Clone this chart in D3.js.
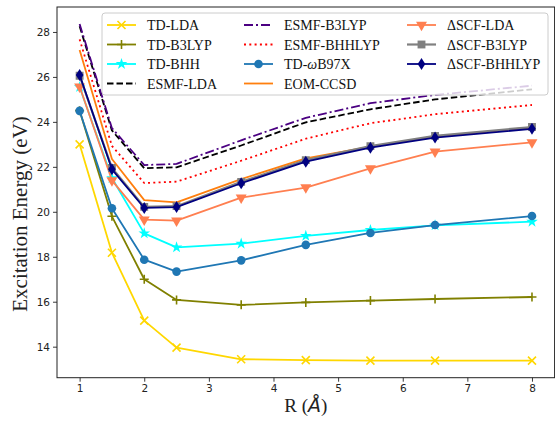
<!DOCTYPE html>
<html><head><meta charset="utf-8">
<script src="https://cdn.jsdelivr.net/npm/d3@7"></script>
<style>body{margin:0;background:#fff}</style>
</head><body><svg id="c" width="555" height="423"></svg>
<script>
// ---- data ----
const xValues = [1, 1.5, 2, 2.5, 3.5, 4.5, 5.5, 6.5, 8];
const tdLDA     = [23.0, 18.18, 15.16, 13.96, 13.44, 13.40, 13.38, 13.38, 13.38];
const tdB3LYP   = [24.5, 19.8, 17.0, 16.08, 15.86, 15.97, 16.05, 16.12, 16.21];
const tdBHH     = [25.55, 21.5, 19.04, 18.42, 18.58, 18.93, 19.19, 19.40, 19.56];
const esmfLDA   = [28.25, 23.62, 21.94, 21.98, 22.95, 23.98, 24.56, 25.0, 25.45];
const esmfB3LYP = [28.35, 23.72, 22.08, 22.13, 23.18, 24.18, 24.83, 25.2, 25.61];
const esmfBHHLYP= [27.67, 22.93, 21.28, 21.34, 22.27, 23.25, 23.94, 24.34, 24.75];
const tdWB97X   = [24.49, 20.16, 17.87, 17.34, 17.84, 18.53, 19.06, 19.41, 19.81];
const eomCCSD   = [27.2, 22.35, 20.52, 20.42, 21.45, 22.38, 22.9, 23.35, 23.75];
const dscfLDA   = [25.57, 21.4, 19.65, 19.61, 20.63, 21.08, 21.93, 22.68, 23.09];
const dscfB3LYP = [26.05, 21.95, 20.22, 20.25, 21.33, 22.3, 22.92, 23.38, 23.77];
const dscfBHHLYP= [26.09, 21.89, 20.17, 20.21, 21.27, 22.23, 22.85, 23.3, 23.69];
const seriesNames = ["TD-LDA","TD-B3LYP","TD-BHH","ESMF-LDA","ESMF-B3LYP","ESMF-BHHLYP","TD-ωB97X","EOM-CCSD","ΔSCF-LDA","ΔSCF-B3LYP","ΔSCF-BHHLYP"];
const seriesValues = [tdLDA, tdB3LYP, tdBHH, esmfLDA, esmfB3LYP, esmfBHHLYP, tdWB97X, eomCCSD, dscfLDA, dscfB3LYP, dscfBHHLYP];
const xTicks = [1,2,3,4,5,6,7,8];
const yTicks = [14,16,18,20,22,24,26,28];
const xLabel = "R (";
const yLabel = "Excitation Energy (eV)";

// ---- styles ----
const styles = [
  {color:"#FFD700", dash:null, marker:"x"},
  {color:"#808000", dash:null, marker:"+"},
  {color:"#00FFFF", dash:null, marker:"star"},
  {color:"#000000", dash:"6.5,3", marker:null},
  {color:"#4B0082", dash:"9,3,2,3", marker:null},
  {color:"#FF0000", dash:"2,3.3", marker:null},
  {color:"#1f77b4", dash:null, marker:"circle"},
  {color:"#ff7f0e", dash:null, marker:null},
  {color:"#FF7F50", dash:null, marker:"tri"},
  {color:"#808080", dash:null, marker:"square"},
  {color:"#000080", dash:null, marker:"diamond"}
];

const svg = d3.select("#c");
const L=57, R=554.6, T=7, B=377.7;
const x = d3.scaleLinear().domain([0.65, 8.35]).range([L, R]);
const y = d3.scaleLinear().domain([12.62, 29.11]).range([B, T]);

function drawMarker(g, type, color) {
  if (type === "x") {
    g.append("path").attr("d","M-4,-4L4,4M-4,4L4,-4").attr("stroke",color).attr("stroke-width",1.6).attr("fill","none");
  } else if (type === "+") {
    g.append("path").attr("d","M-4.5,0L4.5,0M0,-4.5L0,4.5").attr("stroke",color).attr("stroke-width",1.6).attr("fill","none");
  } else if (type === "star") {
    g.append("path").attr("d", d3.symbol(d3.symbolStar, 42)()).attr("fill",color);
  } else if (type === "circle") {
    g.append("circle").attr("r",4.3).attr("fill",color);
  } else if (type === "tri") {
    g.append("path").attr("d", d3.symbol(d3.symbolTriangle, 52)()).attr("transform","rotate(180)").attr("fill",color);
  } else if (type === "square") {
    g.append("path").attr("d", d3.symbol(d3.symbolSquare, 62)()).attr("fill",color);
  } else if (type === "diamond") {
    g.append("path").attr("d","M0,-6L3.8,0L0,6L-3.8,0Z").attr("fill",color);
  }
}

svg.append("defs").append("clipPath").attr("id","clip")
  .append("rect").attr("x",L).attr("y",T).attr("width",R-L).attr("height",B-T);

const plot = svg.append("g").attr("clip-path","url(#clip)");
const line = d3.line().x((d,i)=>x(xValues[i])).y(d=>y(d));
seriesValues.forEach((vals, k) => {
  const s = styles[k];
  const g = plot.append("g");
  g.append("path").datum(vals).attr("d", line).attr("fill","none")
    .attr("stroke", s.color).attr("stroke-width", s.marker==="square"?2.2:1.8)
    .attr("stroke-dasharray", s.dash).attr("stroke-linejoin","round");
  if (s.marker) {
    vals.forEach((v,i) => {
      const mg = g.append("g").attr("transform",`translate(${x(xValues[i])},${y(v)})`);
      drawMarker(mg, s.marker, s.color);
    });
  }
});

// axes
const xAxis = d3.axisBottom(x).tickValues(xTicks).tickSize(4).tickPadding(3).tickFormat(d3.format("d"));
const yAxis = d3.axisLeft(y).tickValues(yTicks).tickSize(4).tickPadding(3).tickFormat(d3.format("d"));
const gx = svg.append("g").attr("transform",`translate(0,${B})`).call(xAxis);
const gy = svg.append("g").attr("transform",`translate(${L},0)`).call(yAxis);
[gx, gy].forEach(g => {
  g.select(".domain").remove();
  g.selectAll("text").attr("font-family","DejaVu Sans").attr("font-size","10.5px").attr("fill","#222");
  g.selectAll("line").attr("stroke","#222").attr("stroke-width",0.9);
});
svg.append("rect").attr("x",L).attr("y",T).attr("width",R-L).attr("height",B-T)
  .attr("fill","none").attr("stroke","#222").attr("stroke-width",1);

// axis labels
const xl = svg.append("text").attr("x",(L+R)/2).attr("y",412).attr("text-anchor","middle")
  .attr("font-family","Liberation Serif").attr("font-size","19px").attr("fill","#222");
xl.append("tspan").text(xLabel);
xl.append("tspan").attr("font-family","DejaVu Sans").attr("font-style","italic").text("Å");
xl.append("tspan").text(")");
svg.append("text").attr("transform","translate(27,214) rotate(-90)").attr("text-anchor","middle")
  .attr("font-family","Liberation Serif").attr("font-size","21px").attr("fill","#222").text(yLabel);

// legend
const lg = svg.append("g");
lg.append("rect").attr("x",102).attr("y",13).attr("width",446).attr("height",82).attr("rx",3)
  .attr("fill","white").attr("fill-opacity",0.8).attr("stroke","#ccc").attr("stroke-width",1);
const colX = [107, 244, 407];
const rowY = [25, 44.5, 64, 83.5];
seriesNames.forEach((name, k) => {
  const col = Math.floor(k/4), row = k%4;
  const s = styles[k];
  const x0 = colX[col], yy = rowY[row];
  const g = lg.append("g");
  g.append("line").attr("x1",x0).attr("x2",x0+29).attr("y1",yy).attr("y2",yy)
    .attr("stroke",s.color).attr("stroke-width",s.marker==="square"?2.2:1.8).attr("stroke-dasharray",s.dash);
  if (s.marker) drawMarker(g.append("g").attr("transform",`translate(${x0+14.5},${yy})`), s.marker, s.color);
  const t = g.append("text").attr("x",x0+40).attr("y",yy+5).attr("font-family","Liberation Serif")
    .attr("font-size","14px").attr("fill","#111");
  if (name.includes("ω")) {
    const parts = name.split("ω");
    t.append("tspan").text(parts[0]);
    t.append("tspan").attr("font-style","italic").text("ω");
    t.append("tspan").text(parts[1]);
  } else t.text(name);
});
</script></body></html>
